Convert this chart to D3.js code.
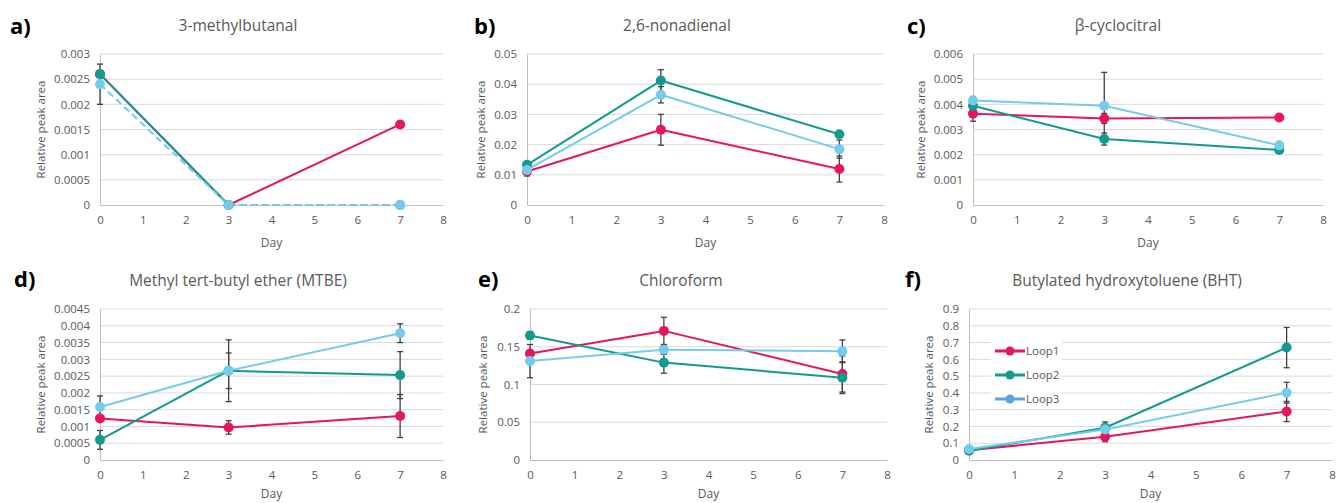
<!DOCTYPE html>
<html><head><meta charset="utf-8">
<script src="https://cdn.jsdelivr.net/npm/d3@7"></script>
<style>body{margin:0;background:#fff}svg{display:block;font-family:'Open Sans',sans-serif}</style>
</head><body><svg id="c" width="1337" height="503"></svg>
<script>
// ---- data ----
const days = [0, 3, 7];
const seriesNames = ["Loop1", "Loop2", "Loop3"];
const panelLetters = ["a)", "b)", "c)", "d)", "e)", "f)"];
const panelTitles = ["3-methylbutanal", "2,6-nonadienal", "β-cyclocitral",
  "Methyl tert-butyl ether (MTBE)", "Chloroform", "Butylated hydroxytoluene (BHT)"];
const yMaxes = [0.003, 0.05, 0.006, 0.0045, 0.2, 0.9];
const yTickSteps = [0.0005, 0.01, 0.001, 0.0005, 0.05, 0.1];
const xTickValues = [0, 1, 2, 3, 4, 5, 6, 7, 8];
const xLabel = "Day";
const yLabel = "Relative peak area";

const loop1Values = [
  [0.0026, 0, 0.0016],
  [0.0111, 0.0249, 0.0119],
  [0.00363, 0.00344, 0.00348],
  [0.00124, 0.00097, 0.00131],
  [0.141, 0.171, 0.114],
  [0.058, 0.139, 0.289]
];
const loop2Values = [
  [0.0026, 0, 0],
  [0.0133, 0.0412, 0.0234],
  [0.00394, 0.00262, 0.00219],
  [0.0006, 0.00266, 0.00253],
  [0.165, 0.129, 0.109],
  [0.055, 0.192, 0.67]
];
const loop3Values = [
  [0.0024, 0, 0],
  [0.0116, 0.0365, 0.0185],
  [0.00415, 0.00394, 0.00237],
  [0.00158, 0.00266, 0.00378],
  [0.131, 0.146, 0.144],
  [0.066, 0.182, 0.401]
];
const loop1Errors = [
  [0, 0, 0],
  [0.0015, 0.0051, 0.0043],
  [0.0003, 0.0002, 0.00005],
  [0, 0.0002, 0.00064],
  [0, 0.018, 0.024],
  [0.01, 0.03, 0.06]
];
const loop2Errors = [
  [0, 0, 0],
  [0.001, 0.0036, 0.0008],
  [0.00037, 0.00024, 0.00005],
  [0.00028, 0.00092, 0.0007],
  [0.005, 0.014, 0.021],
  [0.01, 0.035, 0.12]
];
const loop3Errors = [
  [0.0004, 0, 0],
  [0.001, 0.0027, 0.003],
  [0.0001, 0.00133, 0.00005],
  [0.00033, 0.00053, 0.00028],
  [0.022, 0.006, 0.015],
  [0.01, 0.03, 0.062]
];

// ---- layout & style ----
const colors = ["#E5165C", "#139A8F", "#74CBEC"];
const legendColors = ["#E5165C", "#139A8F", "#5DA3E4"];
const panels = [
  {x0: 100, x1: 443, yt: 54, yb: 205, tx: 238, ty: 31, lx: 10, ly: 34, ax: 45, dy: 42},
  {x0: 527, x1: 884, yt: 54, yb: 205, tx: 677, ty: 31, lx: 474, ly: 34, ax: 485, dy: 42},
  {x0: 973, x1: 1323, yt: 54, yb: 205, tx: 1118, ty: 31, lx: 907, ly: 34, ax: 925, dy: 42},
  {x0: 100, x1: 443, yt: 309, yb: 460, tx: 238, ty: 286, lx: 14, ly: 287, ax: 45, dy: 38},
  {x0: 530, x1: 887, yt: 309, yb: 460, tx: 681, ty: 286, lx: 478, ly: 287, ax: 487, dy: 38},
  {x0: 969, x1: 1332, yt: 309, yb: 460, tx: 1127, ty: 286, lx: 905, ly: 287, ax: 933, dy: 38}
];
// dashed line segments (panel index -> series index -> first dashed segment index)
const dashFrom = {0: {1: 1, 2: 0}};

const svg = d3.select("#c");
const values = [loop1Values, loop2Values, loop3Values];
const errors = [loop1Errors, loop2Errors, loop3Errors];
const textCol = "#595959";

panels.forEach((p, i) => {
  const g = svg.append("g");
  const x = d3.scaleLinear().domain([0, 8]).range([p.x0, p.x1]);
  const y = d3.scaleLinear().domain([0, yMaxes[i]]).range([p.yb, p.yt]);
  const n = Math.round(yMaxes[i] / yTickSteps[i]);
  const yTicks = d3.range(n + 1).map(k => +(k * yTickSteps[i]).toFixed(6));

  g.selectAll(".grid").data(yTicks.filter(t => t > 0)).join("line")
    .attr("x1", p.x0).attr("x2", p.x1)
    .attr("y1", d => y(d)).attr("y2", d => y(d))
    .attr("stroke", "#D9D9D9").attr("stroke-width", 1);
  const yAxis = d3.axisLeft(y).tickValues(yTicks).tickSize(0).tickPadding(10)
    .tickFormat(d => String(d));
  const ya = g.append("g").attr("transform", `translate(${p.x0},0)`).call(yAxis);
  ya.select(".domain").attr("stroke", "#BFBFBF");
  ya.selectAll("text").attr("fill", textCol).style("font-size", "11.5px").style("font-family", "'Open Sans',sans-serif");
  const xAxis = d3.axisBottom(x).tickValues(xTickValues).tickSize(0).tickPadding(11)
    .tickFormat(d3.format("d"));
  const xa = g.append("g").attr("transform", `translate(0,${p.yb})`).call(xAxis);
  xa.select(".domain").attr("stroke", "#BFBFBF");
  xa.selectAll("text").attr("fill", textCol).style("font-size", "11.5px").style("font-family", "'Open Sans',sans-serif");

  g.append("text").attr("x", (p.x0 + p.x1) / 2).attr("y", p.yb + p.dy)
    .attr("text-anchor", "middle").attr("fill", textCol).style("font-size", "12px").text(xLabel);
  g.append("text").attr("transform", `translate(${p.ax},${(p.yt + p.yb) / 2}) rotate(-90)`)
    .attr("text-anchor", "middle").attr("fill", textCol).style("font-size", "11.5px").text(yLabel);
  g.append("text").attr("x", p.tx).attr("y", p.ty).attr("text-anchor", "middle")
    .attr("fill", textCol).style("font-size", "15.5px").text(panelTitles[i]);
  g.append("text").attr("x", p.lx).attr("y", p.ly).attr("fill", "#000")
    .style("font-size", "22px").style("font-weight", "bold").text(panelLetters[i]);

  values.forEach((vals, s) => {
    const pts = days.map((d, k) => [x(d), y(vals[i][k])]);
    const df = dashFrom[i] && dashFrom[i][s] !== undefined ? dashFrom[i][s] : 99;
    for (let k = 0; k < pts.length - 1; k++) {
      g.append("line").attr("x1", pts[k][0]).attr("y1", pts[k][1])
        .attr("x2", pts[k + 1][0]).attr("y2", pts[k + 1][1])
        .attr("stroke", colors[s]).attr("stroke-width", 2)
        .attr("stroke-dasharray", k >= df ? "7,4" : null);
    }
  });
  errors.forEach((errs, s) => {
    days.forEach((d, k) => {
      const e = errs[i][k];
      if (!e) return;
      const v = values[s][i][k];
      const cx = x(d), ya1 = y(v + e), ya2 = y(Math.max(0, v - e));
      const eg = g.append("g").attr("stroke", "#404040").attr("stroke-width", 1.3);
      eg.append("line").attr("x1", cx).attr("x2", cx).attr("y1", ya1).attr("y2", ya2);
      eg.append("line").attr("x1", cx - 3).attr("x2", cx + 3).attr("y1", ya1).attr("y2", ya1);
      eg.append("line").attr("x1", cx - 3).attr("x2", cx + 3).attr("y1", ya2).attr("y2", ya2);
    });
  });
  values.forEach((vals, s) => {
    g.selectAll(null).data(days).join("circle")
      .attr("cx", d => x(d)).attr("cy", (d, k) => y(vals[i][k]))
      .attr("r", 5).attr("fill", colors[s]);
  });
});

const lg = svg.append("g");
lg.append("rect").attr("x", 991).attr("y", 338).attr("width", 71).attr("height", 70).attr("fill", "#fff");
const legendY = d3.scalePoint().domain(seriesNames).range([351, 399]);
seriesNames.forEach((nm, s) => {
  const yy = legendY(nm);
  lg.append("line").attr("x1", 995).attr("x2", 1025).attr("y1", yy).attr("y2", yy)
    .attr("stroke", legendColors[s]).attr("stroke-width", 3);
  lg.append("circle").attr("cx", 1010).attr("cy", yy).attr("r", 4.5).attr("fill", legendColors[s]);
  lg.append("text").attr("x", 1026).attr("y", yy + 4).attr("fill", textCol)
    .style("font-size", "11.5px").text(nm);
});
</script></body></html>
